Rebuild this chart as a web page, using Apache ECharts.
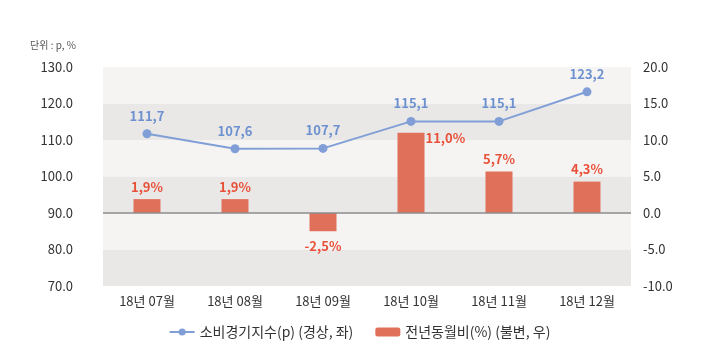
<!DOCTYPE html>
<html><head><meta charset="utf-8">
<script src="https://cdn.jsdelivr.net/npm/echarts@6/dist/echarts.min.js"></script>
<style>html,body{margin:0;padding:0;background:#fff}#c{width:719px;height:364px}</style>
</head><body><div id="c"></div>
<script>
const categories = ['18년 07월','18년 08월','18년 09월','18년 10월','18년 11월','18년 12월'];
const indexValues = [111.7, 107.6, 107.7, 115.1, 115.1, 123.2];
const yoyValues = [1.9, 1.9, -2.5, 11.0, 5.7, 4.3];
const lineName = '소비경기지수(p) (경상, 좌)';
const barName = '전년동월비(%) (불변, 우)';
const unitText = '단위 : p, %';

const F = '"Noto Sans CJK KR", "Noto Sans", sans-serif';
const comma = v => v.toFixed(1).replace('.', ',');
const chart = echarts.init(document.getElementById('c'));
chart.setOption({
  animation: false,
  textStyle: {fontFamily: F},
  graphic: [{type: 'text', left: 30, top: 40, style: {text: unitText, font: '10px ' + F, fill: '#555'}}],
  grid: {left: 103, right: 88, top: 67, bottom: 78},
  legend: {
    bottom: 20, left: 'center', itemGap: 22, itemWidth: 25, itemHeight: 9,
    textStyle: {fontSize: 14, color: '#333', fontFamily: F},
    data: [{name: lineName}, {name: barName}]
  },
  xAxis: {
    type: 'category', data: categories,
    axisLine: {show: false}, axisTick: {show: false},
    axisLabel: {fontSize: 13, color: '#333', margin: 9}
  },
  yAxis: [{
    type: 'value', min: 70, max: 130, interval: 10,
    axisLine: {show: false}, axisTick: {show: false},
    axisLabel: {fontSize: 13, color: '#333', margin: 30, formatter: v => v.toFixed(1)},
    splitLine: {show: false},
    splitArea: {show: true, areaStyle: {color: ['#e9e8e7', '#f5f4f3']}}
  }, {
    type: 'value', min: -10, max: 20, interval: 5,
    axisLine: {show: false}, axisTick: {show: false},
    axisLabel: {fontSize: 13, color: '#333', margin: 12, formatter: v => v.toFixed(1)},
    splitLine: {show: false}
  }],
  series: [{
    name: barName, type: 'bar', yAxisIndex: 1, data: yoyValues.map((v, i) => {
      const o = {value: v};
      if (i === 3) o.label = {position: ['100%', 0], align: 'left', verticalAlign: 'top', offset: [1, -1]};
      else if (v < 0) o.label = {position: 'bottom', distance: 8};
      return o;
    }),
    barWidth: 27, itemStyle: {color: '#e0705a'}, z: 2,
    label: {show: true, position: 'top', distance: 6, color: '#e9503a', fontWeight: 'bold', fontSize: 13,
      formatter: p => comma(p.value) + '%'},
    markLine: {silent: true, symbol: 'none', label: {show: false},
      lineStyle: {color: '#8c8c8c', type: 'solid', width: 1.5}, data: [{yAxis: 0}]}
  }, {
    name: lineName, type: 'line', data: indexValues, yAxisIndex: 0, z: 3,
    symbol: 'circle', symbolSize: 9,
    lineStyle: {color: '#819fd6', width: 2}, itemStyle: {color: '#819fd6'},
    label: {show: true, position: 'top', distance: 7, color: '#6d91cf', fontWeight: 'bold', fontSize: 13,
      formatter: p => comma(p.value)}
  }]
});
</script></body></html>
